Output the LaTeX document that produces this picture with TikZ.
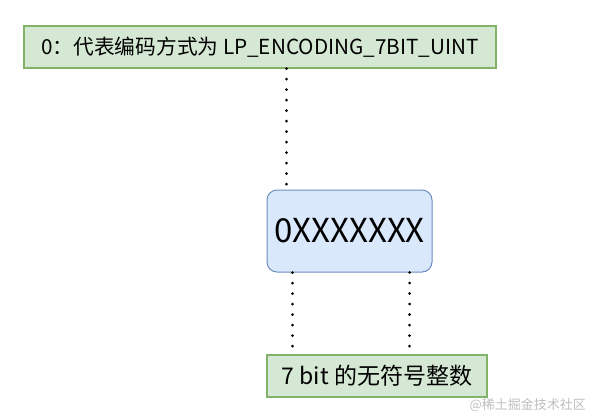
\documentclass[tikz,border=0pt]{standalone}
\usepackage{fontspec}
\setmainfont{Noto Sans CJK SC}
\usepackage{tikz}
\usetikzlibrary{positioning}

\definecolor{boxgreen}{RGB}{213,232,212}
\definecolor{edgegreen}{RGB}{130,179,102}
\definecolor{boxblue}{RGB}{218,232,252}
\definecolor{edgeblue}{RGB}{108,142,191}
\definecolor{markgray}{RGB}{190,190,190}

\tikzset{
  greenbox/.style={draw=edgegreen,fill=boxgreen,line width=1.2pt,inner sep=0pt},
  bluebox/.style={draw=edgeblue,fill=boxblue,line width=1pt,rounded corners=10pt,inner sep=0pt},
  dotline/.style={line width=3pt,line cap=round,dash pattern=on 0pt off 10.5pt}
}

\begin{document}
\begin{tikzpicture}[x=1pt,y=1pt,yscale=-1]
\useasboundingbox (0,0) rectangle (593,418);
% Text Node
\node (enc) [greenbox,minimum width=472pt,minimum height=42pt] at (260,47) {\fontsize{20.7}{24}\selectfont 0：代表编码方式为 LP\_ENCODING\_7BIT\_UINT};
% Text Node
\node (val) [bluebox,minimum width=165pt,minimum height=82pt] at (349.5,231) {\fontsize{33}{38}\selectfont 0XXXXXXX};
% Text Node
\node (bits) [greenbox,minimum width=220pt,minimum height=42pt] at (377,376) {\fontsize{23}{26}\selectfont 7 bit 的无符号整数};
% Dotted Lines
\draw [dotline] ([xshift=20pt]val.north west |- enc.south) -- ([xshift=20pt]val.north west);
\draw [dotline] ([xshift=26pt]val.south west) -- ([xshift=26pt]val.south west |- bits.north);
\draw [dotline] ([xshift=143pt]val.south west) -- ([xshift=143pt]val.south west |- bits.north);
% Text Node
\node (mark) [anchor=south east,inner sep=0pt,text=markgray] at (586,412) {\fontsize{13}{15}\selectfont @稀土掘金技术社区};
\end{tikzpicture}
\end{document}
